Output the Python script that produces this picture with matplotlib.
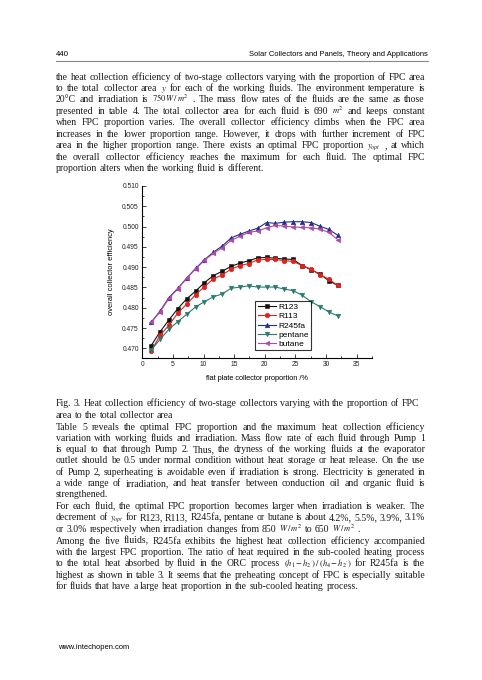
import matplotlib
matplotlib.use("Agg")
import matplotlib.pyplot as plt
from matplotlib.ticker import MultipleLocator

# FPC proportion (% of 690 m2 total area), one point per 10 m2
proportion = [1.45, 2.90, 4.35, 5.80, 7.25, 8.70, 10.14, 11.59, 13.04, 14.49, 15.94,
              17.39, 18.84, 20.29, 21.74, 23.19, 24.64, 26.09, 27.54, 28.99, 30.43, 31.88]

r123 = [0.4707, 0.4741, 0.4770, 0.4798, 0.4822, 0.4841, 0.4862, 0.4879, 0.4890, 0.4902, 0.4910,
        0.4916, 0.4923, 0.4924, 0.4922, 0.4920, 0.4919, 0.4904, 0.4894, 0.4883, 0.4867, 0.4855]
r113 = [0.4694, 0.4732, 0.4757, 0.4787, 0.4809, 0.4832, 0.4852, 0.4871, 0.4881, 0.4895, 0.4904,
        0.4909, 0.4918, 0.4919, 0.4919, 0.4916, 0.4914, 0.4904, 0.4895, 0.4881, 0.4871, 0.4855]
r245fa = [0.4764, 0.4792, 0.4825, 0.4848, 0.4873, 0.4897, 0.4918, 0.4937, 0.4952, 0.4972, 0.4981,
          0.4989, 0.4996, 0.5010, 0.5008, 0.5011, 0.5012, 0.5012, 0.5010, 0.5001, 0.4993, 0.4979]
pentane = [0.4696, 0.4722, 0.4747, 0.4766, 0.4784, 0.4802, 0.4815, 0.4827, 0.4834, 0.4848, 0.4851,
           0.4854, 0.4851, 0.4851, 0.4851, 0.4846, 0.4842, 0.4831, 0.4815, 0.4803, 0.4790, 0.4780]
butane = [0.4764, 0.4790, 0.4823, 0.4847, 0.4873, 0.4896, 0.4917, 0.4934, 0.4948, 0.4966, 0.4976,
          0.4986, 0.4989, 0.4997, 0.5003, 0.5001, 0.4999, 0.4998, 0.4997, 0.4994, 0.4986, 0.4968]

series = [("R123", r123, "s", "#111111"),
          ("R113", r113, "o", "#e0221e"),
          ("R245fa", r245fa, "^", "#22308a"),
          ("pentane", pentane, "v", "#2b7a6f"),
          ("butane", butane, "<", "#b04aa6")]

para1 = [
    "the heat collection efficiency of two-stage collectors varying with the proportion of FPC area",
    "to the total collector area $y$ for each of the working fluids. The environment temperature is",
    "20°C and irradiation is $750\\,W\\,/\\,m^2$ . The mass flow rates of the fluids are the same as those",
    "presented in table 4. The total collector area for each fluid is 690 $m^2$ and keeps constant",
    "when FPC proportion varies. The overall collector efficiency climbs when the FPC area",
    "increases in the lower proportion range. However, it drops with further increment of FPC",
    "area in the higher proportion range. There exists an optimal FPC proportion $y_{opt}$ , at which",
    "the overall collector efficiency reaches the maximum for each fluid. The optimal FPC",
    "proportion alters when the working fluid is different.",
]
caption = [
    "Fig. 3. Heat collection efficiency of two-stage collectors varying with the proportion of FPC",
    "area to the total collector area",
]
para2 = [
    "Table 5 reveals the optimal FPC proportion and the maximum heat collection efficiency",
    "variation with working fluids and irradiation. Mass flow rate of each fluid through Pump 1",
    "is equal to that through Pump 2. Thus, the dryness of the working fluids at the evaporator",
    "outlet should be 0.5 under normal condition without heat storage or heat release. On the use",
    "of Pump 2, superheating is avoidable even if irradiation is strong. Electricity is generated in",
    "a wide range of irradiation, and heat transfer between conduction oil and organic fluid is",
    "strengthened.",
]
para3 = [
    "For each fluid, the optimal FPC proportion becomes larger when irradiation is weaker. The",
    "decrement of $y_{opt}$ for R123, R113, R245fa, pentane or butane is about 4.2%, 5.5%, 3.9%, 3.1%",
    "or 3.0% respectively when irradiation changes from 850 $W\\,/\\,m^2$ to 650 $W\\,/\\,m^2$ .",
]
para4 = [
    "Among the five fluids, R245fa exhibits the highest heat collection efficiency accompanied",
    "with the largest FPC proportion. The ratio of heat required in the sub-cooled heating process",
    "to the total heat absorbed by fluid in the ORC process $(h_1-h_{2'})\\,/\\,(h_4-h_{2'})$ for R245fa is the",
    "highest as shown in table 3. It seems that the preheating concept of FPC is especially suitable",
    "for fluids that have a large heat proportion in the sub-cooled heating process.",
]

W, H = 482, 680
plt.rcParams["mathtext.fontset"] = "stix"
fig = plt.figure(figsize=(W / 100, H / 100), dpi=100)
renderer = fig.canvas.get_renderer()

FAMILY = "Liberation Serif"
SIZE = 7.0
X0, X1 = 56, 425


def fx(px):
    return px / W


def fy(py):
    return 1 - py / H


def space_width(size):
    sp = fig.text(0, 0, "a a", family=FAMILY, size=size)
    sa = fig.text(0, 0, "aa", family=FAMILY, size=size)
    w = sp.get_window_extent(renderer).width - sa.get_window_extent(renderer).width
    sp.remove()
    sa.remove()
    return w


def text_line(py, line, justify=True):
    words = [w for w in line.split(" ") if w]
    size = SIZE
    while True:
        objs = [fig.text(fx(X0), fy(py), w, va="baseline", ha="left", family=FAMILY,
                         size=size * (0.88 if "$" in w else 1.0), color="#1a1a1a")
                for w in words]
        widths = [o.get_window_extent(renderer).width for o in objs]
        space = space_width(size)
        gap = space
        if justify and len(words) > 1:
            gap = (X1 - X0 - sum(widths)) / (len(words) - 1)
        if gap >= 0.9 * space or size < 6.0:
            break
        for o in objs:
            o.remove()
        size -= 0.1
    x = X0
    for o, w in zip(objs, widths):
        o.set_x(fx(x))
        x += w + gap


def paragraph(py0, lines, step):
    for i, line in enumerate(lines):
        text_line(py0 + i * step, line, justify=(i < len(lines) - 1))


# header and footer
fig.text(fx(56), fy(56), "440", family="Liberation Sans", size=5.6, va="baseline")
fig.text(fx(428), fy(56), "Solar Collectors and Panels, Theory and Applications",
         family="Liberation Sans", size=5.4, va="baseline", ha="right")
fig.add_artist(plt.Line2D([fx(56), fx(428)], [fy(60.5), fy(60.5)], color="#888888", lw=0.8))
fig.text(fx(58), fy(649), "www.intechopen.com", family="Liberation Sans", size=5.4, va="baseline")

paragraph(79.5, para1, 11.45)
for i, line in enumerate(caption):
    text_line(406.5 + i * 11.8, line, justify=False)
paragraph(429.5, para2, 11.3)
paragraph(509, para3, 11.3)
paragraph(543.5, para4, 11.45)

# chart
left, right, top, bottom = 142.3, 372.0, 186.0, 357.7
ax = fig.add_axes([fx(left), fy(bottom), (right - left) / W, (bottom - top) / H])
for name, vals, mk, col in series:
    ax.plot(proportion, vals, marker=mk, color=col, label=name, lw=0.8,
            markersize=3.3, markeredgewidth=0.4)

ax.set_xlim(0, 37.5)
ax.set_ylim(0.4677, 0.510)
ax.xaxis.set_major_locator(MultipleLocator(5))
ax.xaxis.set_minor_locator(MultipleLocator(2.5))
ax.yaxis.set_minor_locator(MultipleLocator(0.0025))
ax.set_yticks([0.470, 0.475, 0.480, 0.485, 0.490, 0.495, 0.500, 0.505, 0.510])
ax.set_yticklabels(["0.470", "0.475", "0.480", "0.485", "0.490", "0.495", "0.500", "0.505", "0.510"])
ax.tick_params(which="both", direction="in", width=0.6, labelsize=4.8, pad=2.5,
               colors="#222222")
ax.tick_params(which="major", length=3)
ax.tick_params(which="minor", length=1.5)
for lab in ax.get_xticklabels() + ax.get_yticklabels():
    lab.set_family("Liberation Sans")
ax.spines["top"].set_visible(False)
ax.spines["right"].set_visible(False)
ax.spines["left"].set_linewidth(0.8)
ax.spines["bottom"].set_linewidth(0.8)
ax.patch.set_alpha(0)

ax.set_xlabel("flat plate collector proportion /%", family="Liberation Sans", size=5.3, labelpad=5)
ax.set_ylabel("overall collector efficiency", family="Liberation Sans", size=5.4, labelpad=5)

leg = ax.legend(loc="upper left", bbox_to_anchor=(fx(255), fy(301)), bbox_transform=fig.transFigure,
                borderaxespad=0, frameon=True, fancybox=False, handlelength=2.2,
                handletextpad=0.3, labelspacing=0.15, borderpad=0.3,
                prop={"family": "Liberation Sans", "size": 6})
leg.get_frame().set_edgecolor("black")
leg.get_frame().set_linewidth(0.8)

fig.savefig("out.png", dpi=100)
